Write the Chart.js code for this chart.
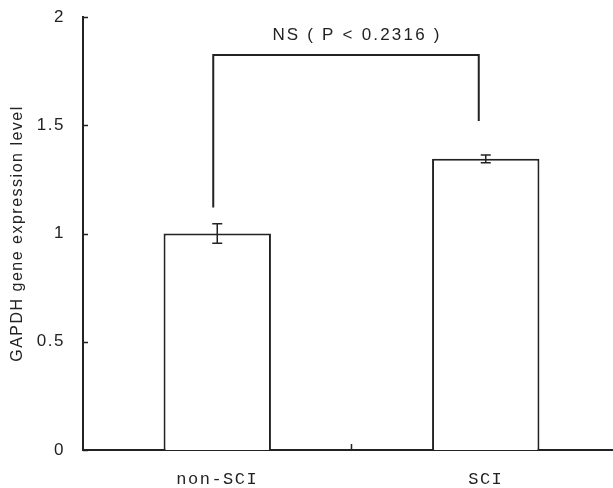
<!DOCTYPE html>
<html>
<head>
<meta charset="utf-8">
<script src="https://cdn.jsdelivr.net/npm/chart.js@4/dist/chart.umd.min.js"></script>
<style>
  html, body { margin: 0; padding: 0; background: #fff; overflow: hidden; }
  #wrap { width: 620px; height: 488px; }
</style>
</head>
<body>
<div id="wrap"><canvas id="c" width="620" height="488"></canvas></div>
<script>
// data
const groups = ['non-SCI', 'SCI'];
const means = [1.0, 1.345];
const errs = [0.045, 0.018];
const yTicks = [0, 0.5, 1, 1.5, 2];
const sigLabel = 'NS ( P < 0.2316 )';
const bracketTop = 1.825;
const bracketLegs = [1.12, 1.52];

const ink = '#222222';
const sans = '"Liberation Sans", Arial, sans-serif';

// letter spacing for all axis text (the original uses a wide-set font)
const spacing = {
  id: 'spacing',
  beforeDraw(chart) { chart.ctx.letterSpacing = '1.5px'; }
};

// error bars, bracket, inward ticks
const extras = {
  id: 'extras',
  afterDatasetsDraw(chart) {
    const { ctx, scales: { x, y }, chartArea } = chart;
    ctx.save();
    ctx.strokeStyle = ink;
    ctx.lineWidth = 1.5;

    // inward y ticks
    yTicks.forEach(v => {
      const py = Math.round(y.getPixelForValue(v)) + 0.5;
      ctx.beginPath();
      ctx.moveTo(chartArea.left, py);
      ctx.lineTo(chartArea.left + 5, py);
      ctx.stroke();
    });
    // middle tick on x axis
    const mid = (x.getPixelForValue(0) + x.getPixelForValue(1)) / 2;
    ctx.beginPath();
    ctx.moveTo(mid, chartArea.bottom);
    ctx.lineTo(mid, chartArea.bottom - 6);
    ctx.stroke();

    // error bars
    means.forEach((m, i) => {
      const px = x.getPixelForValue(i);
      const hi = y.getPixelForValue(m + errs[i]);
      const lo = y.getPixelForValue(m - errs[i]);
      ctx.beginPath();
      ctx.moveTo(px, hi); ctx.lineTo(px, lo);
      ctx.moveTo(px - 5, hi); ctx.lineTo(px + 5, hi);
      ctx.moveTo(px - 5, lo); ctx.lineTo(px + 5, lo);
      ctx.stroke();
    });

    // significance bracket
    const x0 = x.getPixelForValue(0) - 4;
    const x1 = x.getPixelForValue(1) - 7;
    const yt = y.getPixelForValue(bracketTop);
    ctx.lineWidth = 2;
    ctx.beginPath();
    ctx.moveTo(x0, y.getPixelForValue(bracketLegs[0]));
    ctx.lineTo(x0, yt);
    ctx.lineTo(x1, yt);
    ctx.lineTo(x1, y.getPixelForValue(bracketLegs[1]));
    ctx.stroke();

    ctx.fillStyle = ink;
    ctx.font = '17px ' + sans;
    ctx.letterSpacing = '2.2px';
    ctx.textAlign = 'center';
    ctx.textBaseline = 'middle';
    ctx.fillText(sigLabel, (x0 + x1) / 2 + 11, yt - 20);
    ctx.restore();
  }
};

new Chart(document.getElementById('c'), {
  type: 'bar',
  data: {
    labels: groups,
    datasets: [{
      data: means,
      backgroundColor: '#ffffff',
      borderColor: ink,
      borderWidth: { top: 2, left: 2, right: 2, bottom: 0 },
      borderSkipped: 'bottom',
      barPercentage: 0.4,
      categoryPercentage: 1.0
    }]
  },
  options: {
    responsive: false,
    animation: false,
    layout: { padding: { top: 17, right: 0, left: 0, bottom: 0 } },
    plugins: { legend: { display: false }, tooltip: { enabled: false } },
    scales: {
      x: {
        grid: { display: false, drawTicks: false },
        border: { color: ink, width: 2 },
        ticks: {
          color: ink,
          padding: 19,
          font: { family: '"Liberation Mono", monospace', size: 17 }
        },
        afterFit(scale) { scale.height = 38; }
      },
      y: {
        min: 0,
        max: 2,
        afterBuildTicks(scale) { scale.ticks = yTicks.map(v => ({ value: v })); },
        grid: { display: false, drawTicks: false },
        border: { color: ink, width: 2 },
        ticks: {
          color: ink,
          padding: 18,
          font: { family: sans, size: 17 },
          callback: v => String(v)
        },
        title: {
          display: true,
          text: 'GAPDH gene expression level',
          color: ink,
          padding: { top: 8, bottom: 0 },
          font: { family: sans, size: 16 }
        },
        afterFit(scale) {
          scale.width = 83;
          scale.paddingTop = 0;
          scale.paddingBottom = 0;
        }
      }
    }
  },
  plugins: [spacing, extras]
});
</script>
</body>
</html>
